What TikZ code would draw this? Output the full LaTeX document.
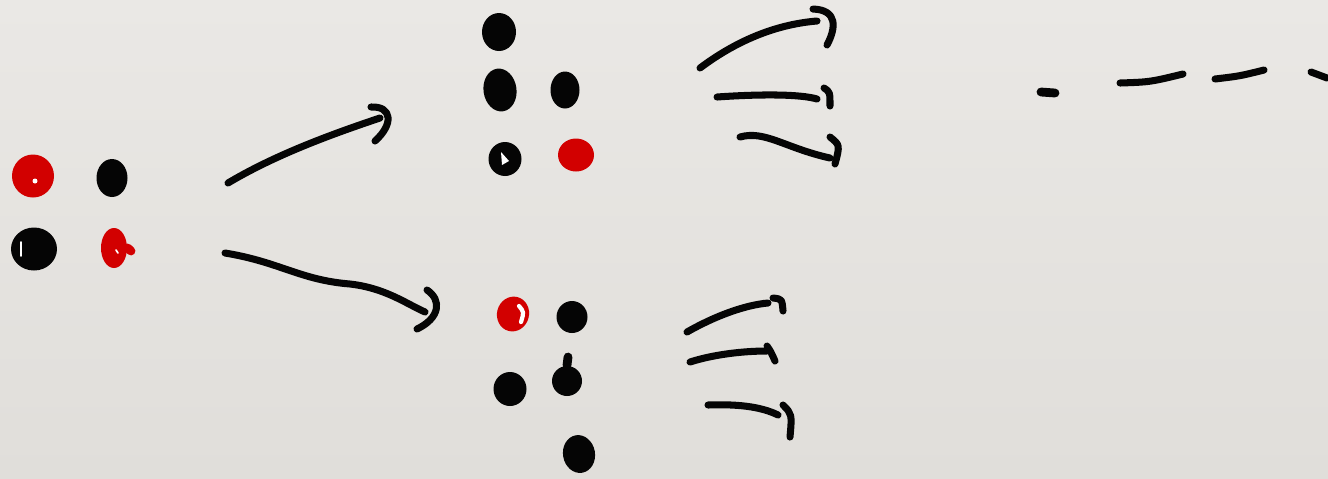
\documentclass[tikz,border=0pt]{standalone}
\usepackage{xcolor}
\definecolor{ink}{HTML}{050505}
\definecolor{inkred}{HTML}{D20000}
\definecolor{paperlight}{HTML}{EAE8E5}
\definecolor{paperdark}{HTML}{E0DEDA}
\usepackage{tikz}
\usetikzlibrary{shapes.geometric}

\tikzset{
  dot/.style={ellipse, fill=ink, inner sep=0pt},
  reddot/.style={dot, fill=inkred},
  wh/.style 2 args={minimum width=#1*.01cm, minimum height=#2*.01cm},
  stroke/.style={ink, line width=2pt, line cap=round, line join=round},
  shine/.style={white, line width=0.5pt, line cap=round},
}

\begin{document}
\begin{tikzpicture}[x=0.01cm, y=-0.01cm]
  % paper
  \useasboundingbox (0,0) rectangle (1328,478);
  \shade[top color=paperlight, bottom color=paperdark] (0,0) rectangle (1328,478);

  % start: 2x2 dots
  \node[reddot, wh={42}{43}] (l1) at (33,176) {};
  \node[dot, wh={31}{38}] (l2) at (112,178) {};
  \node[dot, wh={46}{43}] (l3) at (34,249) {};
  \node[reddot, wh={26}{40}] (l4) at (114,248) {};
  \draw[stroke, inkred, line width=2.5pt] (l4.east) -- (131,251);
  \fill[white] (35,181) circle (2.5);
  \draw[shine] (21,242) -- (21,256);
  \draw[shine] (116,250) -- (118,253);

  % upper branch
  \node[dot, wh={34}{38}] (t1) at (499,32) {};
  \node[dot, wh={33}{43}, rotate=8] (t2) at (500,90) {};
  \node[dot, wh={29}{37}] (t3) at (565,90) {};
  \node[dot, wh={33}{34}] (t4) at (505,159) {};
  \node[reddot, wh={36}{33}] (t5) at (576,155) {};
  \fill[white] (501,152) -- (509,161) -- (502,165) -- cycle;

  % lower branch
  \node[reddot, wh={32}{35}, rotate=-15] (b1) at (513,314) {};
  \node[dot, wh={31}{32}] (b2) at (572,317) {};
  \node[dot, wh={33}{34}] (b3) at (510,389) {};
  \node[dot, wh={30}{30}] (b4) at (567,381) {};
  \draw[stroke, line width=2.5pt] (b4.north) -- (568,357);
  \node[dot, wh={32}{38}, rotate=10] (b5) at (579,454) {};
  \draw[white, line width=1.2pt, line cap=round] (519,306) .. controls (524,312) .. (521,322);

  % big arrows
  \coordinate (up0) at (228,183);
  \coordinate (up1) at (380,118);
  \draw[stroke] (up0) .. controls (270,158) and (320,138) .. (up1);
  \draw[stroke] (371,107) .. controls (392,106) and (394,124) .. (375,141);

  \coordinate (dn0) at (225,253);
  \coordinate (dn1) at (425,312);
  \draw[stroke] (dn0) .. controls (280,262) and (300,280) .. (350,284)
    .. controls (385,288) and (405,303) .. (dn1);
  \draw[stroke] (427,290) .. controls (442,300) and (440,318) .. (417,329);

  % small arrows, upper
  \coordinate (ua0) at (700,68);  \coordinate (ua1) at (817,21);
  \coordinate (ub0) at (717,97);  \coordinate (ub1) at (817,99);
  \coordinate (uc0) at (740,137); \coordinate (uc1) at (830,158);
  \draw[stroke] (ua0) .. controls (740,38) and (780,24) .. (ua1);
  \draw[stroke] (813,9) .. controls (838,10) and (836,28) .. (827,45);
  \draw[stroke] (ub0) .. controls (760,94) and (800,94) .. (ub1);
  \draw[stroke] (824,88) .. controls (830,92) .. (830,106);
  \draw[stroke] (uc0) .. controls (765,130) and (785,148) .. (uc1);
  \draw[stroke] (830,137) .. controls (840,145) .. (835,164);

  % small arrows, lower
  \coordinate (la0) at (687,332); \coordinate (la1) at (768,303);
  \coordinate (lb0) at (690,362); \coordinate (lb1) at (767,351);
  \coordinate (lc0) at (708,405); \coordinate (lc1) at (778,415);
  \draw[stroke] (la0) .. controls (715,316) and (745,305) .. (la1);
  \draw[stroke] (773,298) .. controls (782,299) .. (783,311);
  \draw[stroke] (lb0) .. controls (715,354) and (745,351) .. (lb1);
  \draw[stroke] (767,346) .. controls (771,352) .. (775,361);
  \draw[stroke] (lc0) .. controls (735,404) and (760,406) .. (lc1);
  \draw[stroke] (783,405) .. controls (792,414) .. (790,437);

  % and so on
  \draw[stroke, line width=2.5pt] (1041,92) -- (1055,93);
  \draw[stroke] (1120,83) .. controls (1150,82) .. (1183,74);
  \draw[stroke] (1215,79) .. controls (1240,76) .. (1264,70);
  \draw[stroke] (1311,72) -- (1327,78);
\end{tikzpicture}
\end{document}
